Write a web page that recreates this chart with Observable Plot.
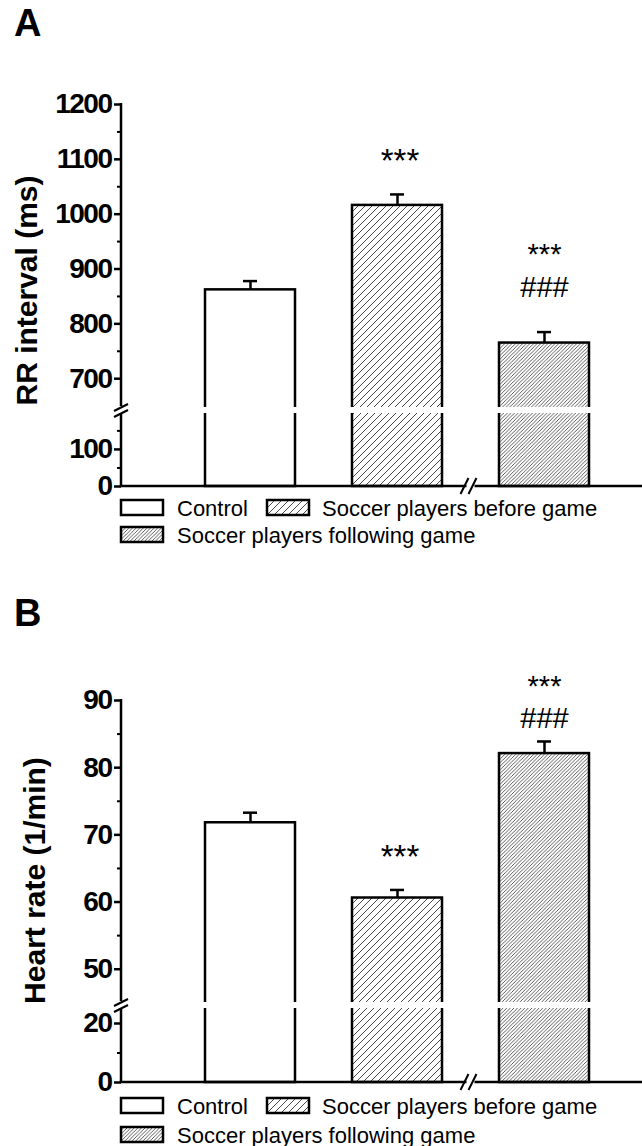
<!DOCTYPE html>
<html><head><meta charset="utf-8">
<script src="https://cdn.jsdelivr.net/npm/d3@7"></script>
<script src="https://cdn.jsdelivr.net/npm/@observablehq/plot@0.6"></script>
<style>
html,body{margin:0;padding:0;background:#fff;}
#page{position:relative;width:642px;height:1146px;overflow:hidden;font-family:"Liberation Sans",Arial,sans-serif;}
.title{position:absolute;left:14px;font-weight:bold;font-size:38px;line-height:1;}
.abs{position:absolute;left:0;}
[aria-label="y-axis tick label"] text{letter-spacing:-1.5px;}
[aria-label="stars"] text{letter-spacing:5px;}
[aria-label="stars and hashes"] tspan:first-child{letter-spacing:7px;}
</style></head><body><div id="page"></div>
<script>
// ---- data ----
const groups = ["Control", "Soccer players before game", "Soccer players following game"];
const rrMean = [862, 1016, 765];
const rrSE = [16, 20, 20];
const rrStars = ["", "***", "***"];
const rrHash = ["", "", "###"];
const rrMajorTicks = [0, 100, 700, 800, 900, 1000, 1100, 1200];
const rrMinorTicks = [50, 150, 750, 850, 950, 1050, 1150];
const hrMean = [71.8, 60.6, 82.1];
const hrSE = [1.5, 1.2, 1.8];
const hrStars = ["", "***", "***"];
const hrHash = ["", "", "###"];
const hrMajorTicks = [0, 20, 50, 60, 70, 80, 90];
const hrMinorTicks = [10, 55, 65, 75, 85];

const fills = ["white", "url(#hatchSparse)", "url(#hatchDense)"];
const FONT = "Liberation Sans, Arial, sans-serif";

const page = d3.select("#page");

// pattern defs
const defsSvg = page.append("svg").attr("width", 0).attr("height", 0).style("position", "absolute");
const defs = defsSvg.append("defs");
function hatch(id, s, sw, color) {
  const p = defs.append("pattern").attr("id", id).attr("patternUnits", "userSpaceOnUse")
    .attr("width", s).attr("height", s);
  p.append("rect").attr("width", s).attr("height", s).attr("fill", "white");
  p.append("path").attr("d", `M-1,1 l2,-2 M0,${s} l${s},${-s} M${s-1},${s+1} l2,-2`)
    .attr("stroke", color).attr("stroke-width", sw);
}
hatch("hatchSparse", 7, 0.9, "#333");
hatch("hatchDense", 3.6, 0.8, "#333");

function axisLines(cfg) {
  return (index, scales, values, dims) => {
    const {width, marginLeft} = dims;
    const x = scales.x, y = scales.y;
    const g = d3.create("svg:g").attr("fill", "none").attr("stroke", "black");
    const x0 = marginLeft;
    const yb = y(cfg.breakLo), y0 = y(0), yTop = y(cfg.top);
    g.append("rect").attr("x", x0 + 6).attr("y", yb - 3).attr("width", width - x0 - 6).attr("height", 6)
      .attr("fill", "white").attr("stroke", "none");
    g.append("line").attr("x1", x0).attr("x2", x0).attr("y1", yTop - 1).attr("y2", yb - 4).attr("stroke-width", 2.5);
    g.append("line").attr("x1", x0).attr("x2", x0).attr("y1", yb + 3).attr("y2", y0).attr("stroke-width", 2.5);
    g.append("path").attr("d", `M${x0-7},${yb+1} L${x0+7},${yb-6} M${x0-7},${yb+7} L${x0+7},${yb}`).attr("stroke-width", 2);
    const bx = (x(groups[1]) + x.bandwidth() + x(groups[2])) / 2;
    g.append("line").attr("x1", x0 - 1.25).attr("x2", bx - 4).attr("y1", y0).attr("y2", y0).attr("stroke-width", 2.5);
    g.append("line").attr("x1", bx + 4).attr("x2", width).attr("y1", y0).attr("y2", y0).attr("stroke-width", 2.5);
    g.append("path").attr("d", `M${bx-10},${y0+8} L${bx-2},${y0-8} M${bx-2},${y0+8} L${bx+6},${y0-8}`).attr("stroke-width", 2);
    return g.node();
  };
}

function panel(cfg) {
  const data = groups.map((g, i) => ({group: g, mean: cfg.mean[i], se: cfg.se[i], stars: cfg.stars[i], hash: cfg.hash[i]}));
  const top = d => d.mean + d.se;
  const chart = Plot.plot({
    width: 642, height: cfg.height,
    marginLeft: 121, marginRight: 0, marginTop: cfg.mt, marginBottom: cfg.mb,
    x: {type: "band", domain: groups, range: [204, 590], paddingInner: 0.39, paddingOuter: 0, axis: null},
    y: {type: "linear", domain: [0, cfg.breakLo, cfg.breakHi, cfg.top], range: cfg.range, axis: null},
    color: {type: "ordinal", domain: groups, range: fills},
    style: {fontFamily: FONT, fontSize: "22px", background: "transparent", overflow: "visible", color: "black"},
    marks: [
      Plot.barY(data, {x: "group", y1: 0, y2: "mean", fill: "group", stroke: "black", strokeWidth: 2.5}),
      Plot.ruleX(data, {x: "group", y1: "mean", y2: top, stroke: "black", strokeWidth: 2.5}),
      Plot.tickY(data, {x: "group", y: top, insetLeft: 38, insetRight: 38, stroke: "black", strokeWidth: 2.5}),
      axisLines(cfg),
      Plot.axisY(cfg.major, {tickSize: 7, tickPadding: 3, strokeWidth: 2.5, fontSize: 28, fontWeight: "bold",
        tickFormat: d => String(d), label: null, fill: "black"}),
      Plot.axisY(cfg.minor, {tickSize: 4, strokeWidth: 2, tickFormat: () => "", label: null}),
      Plot.text([cfg.label], {text: d => d, frameAnchor: "left", textAnchor: "middle", rotate: -90, dx: cfg.labelDx,
        fontSize: 30, fontWeight: "bold", fill: "black"}),
      Plot.text(data.filter(d => d.stars && !d.hash), {x: "group", y: top, text: "stars", dy: -33, dx: 2.5,
        fontSize: 33, ariaLabel: "stars", fill: "black"}),
      Plot.text(data.filter(d => d.stars && d.hash), {x: "group", y: top, text: d => d.stars + "\n" + d.hash,
        lineAnchor: "bottom", lineHeight: 1.13, dy: cfg.hashDy,
        fontSize: 29, ariaLabel: "stars and hashes", fill: "black"})
    ]
  });
  const wrap = page.append("div").attr("class", "abs").style("top", cfg.topPx + "px");
  wrap.node().appendChild(chart);
}

function legend(topPx, row2) {
  const svg = page.append("svg").attr("class", "abs").style("top", topPx + "px")
    .attr("width", 642).attr("height", 56).style("font-family", FONT);
  const items = [
    {bx: 121, by: 5, tx: 177, ty: 20.5},
    {bx: 267, by: 5, tx: 322, ty: 20.5},
    {bx: 121, by: row2, tx: 177, ty: row2 + 15.5}
  ];
  groups.forEach((g, i) => {
    const it = items[i];
    svg.append("rect").attr("x", it.bx).attr("y", it.by).attr("width", 42).attr("height", 15)
      .attr("fill", fills[i]).attr("stroke", "black").attr("stroke-width", 2.5);
    svg.append("text").attr("x", it.tx).attr("y", it.ty).attr("font-size", 22).text(g);
  });
}

page.append("div").attr("class", "title").style("top", "4px").text("A");
page.append("div").attr("class", "title").style("top", "594px").text("B");

panel({topPx: 60, height: 440, mt: 44, mb: 24,
  mean: rrMean, se: rrSE, stars: rrStars, hash: rrHash,
  breakLo: 205, breakHi: 642, top: 1200, range: [426, 350, 350, 44],
  major: rrMajorTicks, minor: rrMinorTicks, label: "RR interval (ms)", labelDx: -94,
  hashDy: -35});
legend(495, 32);

panel({topPx: 640, height: 460, mt: 60, mb: 40,
  mean: hrMean, se: hrSE, stars: hrStars, hash: hrHash,
  breakLo: 26.1, breakHi: 44.6, top: 90, range: [442, 365, 365, 60],
  major: hrMajorTicks, minor: hrMinorTicks, label: "Heart rate (1/min)", labelDx: -86,
  hashDy: -13});
legend(1093, 34);
</script></body></html>
